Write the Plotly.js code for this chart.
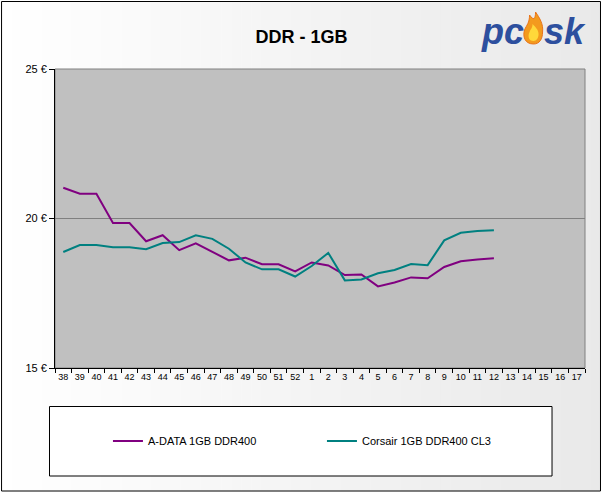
<!DOCTYPE html>
<html>
<head>
<meta charset="utf-8">
<script src="https://cdn.plot.ly/plotly-3.0.1.min.js"></script>
<style>html,body{margin:0;padding:0;background:#fff;}#chart{width:603px;height:493px;}</style>
</head>
<body>
<div id="chart"></div>
<script>
// ---- data ----
var weeks = ["38","39","40","41","42","43","44","45","46","47","48","49","50","51","52",
             "1","2","3","4","5","6","7","8","9","10","11","12","13","14","15","16","17"];
var adataName = "A-DATA 1GB DDR400";
var adataPrice = [21.03,20.83,20.83,19.85,19.85,19.24,19.44,18.94,19.17,18.88,18.60,18.69,18.47,18.47,18.23,
                  18.53,18.43,18.11,18.13,17.73,17.86,18.03,18.00,18.38,18.57,18.63,18.67];
var corsairName = "Corsair 1GB DDR400 CL3";
var corsairPrice = [18.88,19.11,19.11,19.04,19.04,18.97,19.18,19.21,19.44,19.32,18.99,18.53,18.30,18.30,18.06,
                    18.41,18.85,17.93,17.96,18.17,18.28,18.48,18.44,19.27,19.52,19.58,19.61];
var yTicks = [15,20,25];
var titleText = "DDR - 1GB";

// ---- layout helpers (pixel -> paper) ----
var L = 55, R = 585.5, T = 69, B = 368;
function px(x){ return (x - L) / (R - L); }
function py(y){ return (B - y) / (B - T); }

var shapes = [];
// background gradient strips
var N = 60, x0 = 1.5, x1 = 601;
for (var i = 0; i < N; i++) {
  var a = x0 + (x1 - x0) * i / N, b = x0 + (x1 - x0) * (i + 1) / N + 0.5;
  var c = Math.round(255 - 22 * (i + 0.5) / N);
  shapes.push({type:'rect', xref:'paper', yref:'paper', layer:'below',
    x0:px(a), x1:px(b), y0:py(491), y1:py(1),
    fillcolor:'rgb('+c+','+c+','+c+')', line:{width:0}});
}
// outer frame
shapes.push({type:'rect', xref:'paper', yref:'paper', layer:'below',
  x0:px(1.5), x1:px(601), y0:py(491), y1:py(1.5), line:{color:'#000', width:1}, fillcolor:'rgba(0,0,0,0)'});
// plot area
shapes.push({type:'rect', xref:'paper', yref:'paper', layer:'below',
  x0:0, x1:1, y0:0, y1:1, fillcolor:'#c0c0c0', line:{color:'#808080', width:1}});
// legend box
shapes.push({type:'rect', xref:'paper', yref:'paper', layer:'below',
  x0:px(49.5), x1:px(552.5), y0:py(476), y1:py(406.5), fillcolor:'#ffffff', line:{color:'#000', width:1}});
// logo flame
shapes.push({type:'path', xref:'paper', yref:'paper', xsizemode:'pixel', ysizemode:'pixel',
  xanchor:px(534), yanchor:py(33), layer:'above',
  path:'M 0,-11 C -9,-11 -11,-3 -9,3 C -7,8 -4,10 -4,18 C 0,12 2,14 2,21 C 6,15 10,9 9,1 C 9,-6 6,-11 0,-11 Z',
  fillcolor:'#f39a1e', line:{color:'#e8731a', width:1}});
shapes.push({type:'path', xref:'paper', yref:'paper', xsizemode:'pixel', ysizemode:'pixel',
  xanchor:px(534), yanchor:py(33), layer:'above',
  path:'M 0,-8 C -5,-8 -6,-3 -4,1 C -3,4 -1,5 -1,9 C 2,6 5,3 5,-1 C 5,-5 3,-8 0,-8 Z',
  fillcolor:'#ffd83a', line:{width:0}});

var annotations = [
  {xref:'paper', yref:'paper', x:px(526), y:py(31), xanchor:'right', yanchor:'middle', showarrow:false,
   text:'<b><i>pc</i></b>', font:{family:'Liberation Sans, Arial, sans-serif', size:36, color:'#2d4f9e'}},
  {xref:'paper', yref:'paper', x:px(542), y:py(31), xanchor:'left', yanchor:'middle', showarrow:false,
   text:'<b><i>sk</i></b>', font:{family:'Liberation Sans, Arial, sans-serif', size:36, color:'#2d4f9e'}}
];

var traces = [
  {x: weeks.slice(0, adataPrice.length), y: adataPrice, name: adataName, type:'scatter', mode:'lines',
   line:{color:'#800080', width:2}},
  {x: weeks.slice(0, corsairPrice.length), y: corsairPrice, name: corsairName, type:'scatter', mode:'lines',
   line:{color:'#008080', width:2}}
];

var layout = {
  width:603, height:493,
  margin:{l:L, r:603-R, t:T, b:493-B, pad:0},
  paper_bgcolor:'#ffffff', plot_bgcolor:'rgba(0,0,0,0)',
  font:{family:'Liberation Sans, Arial, sans-serif', color:'#000', size:10},
  title:{text:'<b>'+titleText+'</b>', x:0.5, xref:'container', y:1-37/493, yref:'container', yanchor:'middle',
         font:{family:'Liberation Sans, Arial, sans-serif', size:18, color:'#000'}},
  xaxis:{type:'category', categoryorder:'array', categoryarray:weeks, tickvals:weeks, range:[-0.5, weeks.length-0.5],
         showline:true, linecolor:'#000', linewidth:1, ticks:'outside', tickson:'boundaries', ticklen:4,
         tickcolor:'#000', tickangle:0, tickfont:{size:9}, showgrid:false, zeroline:false, fixedrange:true},
  yaxis:{range:[15,25], tickvals:yTicks, ticktext:yTicks.map(function(v){return v+' €';}),
         showline:true, linecolor:'#000', linewidth:1, ticks:'outside', ticklen:5, tickcolor:'#000',
         tickfont:{size:11}, showgrid:true, gridcolor:'#808080', gridwidth:1, zeroline:false, fixedrange:true},
  showlegend:true,
  legend:{orientation:'h', x:px(108), xanchor:'left', y:py(441), yanchor:'middle',
          bgcolor:'rgba(0,0,0,0)', borderwidth:0, font:{size:11},
          entrywidth:169, entrywidthmode:'pixels', itemwidth:30},
  shapes:shapes, annotations:annotations
};

Plotly.newPlot('chart', traces, layout, {displayModeBar:false, staticPlot:true});
</script>
</body>
</html>
